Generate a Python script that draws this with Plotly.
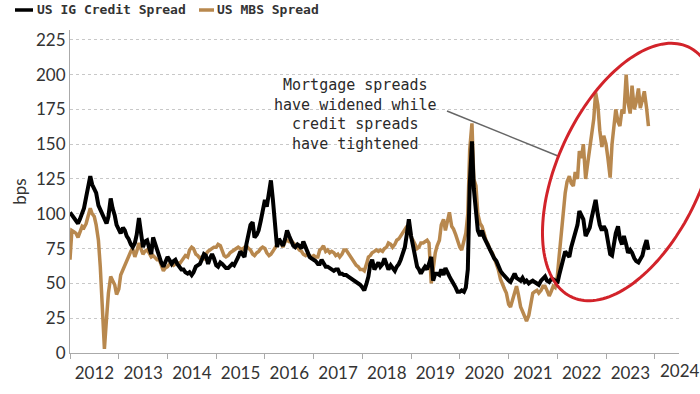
import numpy as np
import pandas as pd
import plotly.graph_objects as go

# ---------------- data (semi-monthly, bps) ----------------
ig_2012 = [101, 99, 97, 95, 93, 96, 100, 104, 112, 120, 127, 121, 117, 115, 106, 103, 100, 97, 93, 98, 111, 104, 99, 92]
ig_2013 = [88, 86, 90, 88, 84, 82, 78, 76, 79, 85, 97, 86, 76, 80, 81, 76, 71, 83, 78, 73, 67, 65, 62, 66]
ig_2014 = [69, 67, 64, 66, 67, 64, 62, 60, 60, 58, 57, 58, 56, 58, 62, 63, 64, 67, 71, 70, 64, 68, 71, 68]
ig_2015 = [63, 62, 65, 64, 62, 61, 61, 63, 64, 63, 66, 69, 73, 71, 69, 78, 87, 92, 94, 83, 85, 88, 95, 102]
ig_2016 = [110, 105, 118, 124, 110, 93, 76, 82, 79, 77, 82, 88, 84, 81, 77, 76, 78, 77, 75, 80, 76, 73, 69, 68]
ig_2017 = [67, 66, 64, 64, 67, 65, 62, 62, 61, 60, 59, 60, 60, 57, 57, 56, 56, 55, 54, 53, 52, 51, 50, 49]
ig_2018 = [47, 45, 50, 55, 64, 67, 60, 63, 65, 62, 64, 68, 63, 60, 63, 61, 59, 62, 64, 67, 71, 76, 86, 96]
ig_2019 = [84, 76, 68, 62, 60, 57, 60, 62, 60, 65, 69, 52, 57, 57, 56, 60, 56, 61, 57, 55, 52, 50, 47, 44]
ig_2020 = [44, 45, 44, 47, 60, 120, 152, 118, 98, 88, 84, 88, 83, 80, 76, 73, 71, 68, 66, 62, 59, 57, 55, 54]
ig_2021 = [52, 51, 55, 57, 54, 53, 52, 54, 51, 52, 50, 51, 52, 51, 50, 49, 52, 53, 55, 52, 51, 53, 53, 52]
ig_2022 = [50, 56, 62, 67, 73, 71, 69, 76, 81, 86, 92, 102, 99, 96, 84, 87, 90, 97, 106, 110, 99, 92, 88, 91]
ig_2023 = [88, 80, 71, 70, 78, 86, 91, 82, 78, 84, 78, 72, 74, 72, 68, 66, 65, 67, 70, 76, 81, 74]

mbs_2012 = [67, 88, 87, 86, 83, 87, 91, 90, 93, 98, 104, 100, 98, 92, 81, 62, 35, 3, 25, 43, 55, 52, 49, 42]
mbs_2013 = [46, 56, 60, 64, 66, 69, 73, 75, 69, 73, 79, 75, 71, 73, 74, 72, 69, 70, 68, 67, 67, 63, 59, 61]
mbs_2014 = [62, 64, 64, 63, 64, 65, 64, 66, 69, 70, 69, 74, 76, 75, 71, 70, 68, 69, 68, 71, 73, 74, 75, 76]
mbs_2015 = [76, 78, 77, 73, 70, 69, 70, 72, 73, 74, 75, 76, 75, 74, 76, 77, 75, 74, 71, 70, 72, 73, 75, 76]
mbs_2016 = [75, 72, 70, 71, 73, 75, 78, 80, 79, 76, 80, 81, 80, 81, 79, 78, 76, 74, 73, 71, 70, 71, 70, 69]
mbs_2017 = [70, 69, 69, 74, 75, 77, 73, 74, 72, 73, 72, 70, 71, 69, 71, 74, 74, 72, 70, 67, 65, 63, 62, 60]
mbs_2018 = [60, 59, 64, 69, 70, 72, 73, 74, 73, 74, 73, 75, 76, 79, 78, 76, 78, 81, 82, 84, 86, 88, 91, 88]
mbs_2019 = [83, 81, 78, 75, 76, 79, 79, 80, 81, 79, 50, 60, 72, 77, 81, 92, 96, 88, 94, 101, 91, 89, 85, 81]
mbs_2020 = [76, 74, 80, 86, 100, 146, 165, 125, 120, 100, 93, 91, 86, 81, 78, 74, 72, 68, 64, 60, 53, 49, 46, 43]
mbs_2021 = [35, 33, 38, 44, 48, 42, 33, 30, 26, 23, 27, 34, 43, 44, 45, 43, 45, 48, 48, 45, 41, 44, 48, 47]
mbs_2022 = [55, 70, 88, 102, 115, 123, 127, 122, 120, 130, 125, 145, 140, 150, 125, 135, 146, 158, 168, 187, 178, 160, 148, 156]
mbs_2023 = [150, 140, 126, 150, 165, 175, 166, 163, 175, 172, 200, 180, 172, 192, 175, 180, 190, 176, 182, 188, 176, 163]

ig_spread = (ig_2012 + ig_2013 + ig_2014 + ig_2015 + ig_2016 + ig_2017 +
             ig_2018 + ig_2019 + ig_2020 + ig_2021 + ig_2022 + ig_2023)
mbs_spread = (mbs_2012 + mbs_2013 + mbs_2014 + mbs_2015 + mbs_2016 + mbs_2017 +
              mbs_2018 + mbs_2019 + mbs_2020 + mbs_2021 + mbs_2022 + mbs_2023)
dates = pd.date_range("2012-01-01", periods=len(ig_spread), freq="SMS")

y_ticks = [0, 25, 50, 75, 100, 125, 150, 175, 200, 225]
series_names = ["US IG Credit Spread", "US MBS Spread"]
note_text = "Mortgage spreads<br>have widened while<br>credit spreads<br>have tightened"

# ---------------- styling / layout helpers ----------------
W, H = 700, 394
L, R, T, B = 70, 679, 30, 353  # plot area in pixels
BLACK = "#000000"
TAN = "#b8884e"
FONT = "Lato, 'Liberation Sans', sans-serif"
MONO = "'DejaVu Sans Mono', 'Liberation Mono', monospace"
TXT = "#333333"


def px2paper(px, py):
    return (px - L) / (R - L), (B - py) / (B - T)


fig = go.Figure()
fig.add_trace(go.Scatter(x=dates, y=mbs_spread, mode="lines", name=series_names[1],
                         line=dict(color=TAN, width=3.5), showlegend=False))
fig.add_trace(go.Scatter(x=dates, y=ig_spread, mode="lines", name=series_names[0],
                         line=dict(color=BLACK, width=4), showlegend=False))

shapes = []
annotations = []

# custom legend
for (x0, x1, tx, col, name) in [(15, 33, 35, BLACK, series_names[0]),
                                (199, 214, 215, TAN, series_names[1])]:
    a0 = px2paper(x0, 10)
    a1 = px2paper(x1, 10)
    shapes.append(dict(type="line", xref="paper", yref="paper", x0=a0[0], x1=a1[0],
                       y0=a0[1], y1=a1[1], line=dict(color=col, width=3.5)))
    p = px2paper(tx, 10)
    annotations.append(dict(text=name, xref="paper", yref="paper", x=p[0], y=p[1],
                            xanchor="left", yanchor="middle", showarrow=False,
                            font=dict(family=MONO, size=13, color=TXT, weight="bold")))

# note text
p = px2paper(355, 114)
annotations.append(dict(text=note_text, xref="paper", yref="paper", x=p[0], y=p[1],
                        xanchor="center", yanchor="middle", showarrow=False, align="center",
                        font=dict(family=MONO, size=15, color="#2a2a2a")))
# leader line
a0 = px2paper(447, 111)
a1 = px2paper(558, 156)
shapes.append(dict(type="line", xref="paper", yref="paper", x0=a0[0], y0=a0[1],
                   x1=a1[0], y1=a1[1], line=dict(color="#666666", width=1.5)))

# red ellipse
t = np.linspace(0, 2 * np.pi, 160)
cx, cy, ra, rb, th = 630, 172, 138, 72, np.radians(65)
ex = cx + ra * np.cos(t) * np.cos(th) + rb * np.sin(t) * np.sin(th)
ey = cy - ra * np.cos(t) * np.sin(th) + rb * np.sin(t) * np.cos(th)
pts = [px2paper(a, b) for a, b in zip(ex, ey)]
path = "M " + " L ".join(f"{a:.4f},{b:.4f}" for a, b in pts) + " Z"
shapes.append(dict(type="path", xref="paper", yref="paper", path=path,
                   line=dict(color="#d2232a", width=3)))

# 2024 label (partial period at right edge)
p = px2paper(680, 370)
annotations.append(dict(text="2024", xref="paper", yref="paper", x=p[0], y=p[1],
                        xanchor="center", yanchor="middle", showarrow=False,
                        font=dict(family=FONT, size=17, color=TXT)))

fig.update_layout(
    width=W, height=H,
    margin=dict(l=L, r=W - R, t=T, b=H - B, autoexpand=False),
    paper_bgcolor="white", plot_bgcolor="white",
    shapes=shapes, annotations=annotations,
    showlegend=False,
)
fig.update_xaxes(
    type="date",
    range=["2012-01-01", "2024-07-01"],
    dtick="M12", tick0="2012-01-01", tickformat="%Y", ticklabelmode="period",
    ticks="outside", ticklen=5, tickcolor="#aaaaaa",
    showline=True, linecolor="#aaaaaa", linewidth=1,
    showgrid=False, zeroline=False, automargin=False,
    tickfont=dict(family=FONT, size=17, color=TXT),
)
fig.update_yaxes(
    range=[0, 232],
    tickvals=y_ticks,
    ticks="", showline=True, linecolor="#aaaaaa", linewidth=1,
    showgrid=True, gridcolor="#c8c8c8", griddash="dot", gridwidth=1,
    zeroline=False, automargin=False,
    tickfont=dict(family=FONT, size=17, color=TXT),
    title=dict(text="bps", font=dict(family=FONT, size=17, color=TXT), standoff=5),
)

fig.write_html("out.html",
               config={"displayModeBar": False},
               post_script="document.body.style.margin='0px';document.body.style.overflow='hidden';")
